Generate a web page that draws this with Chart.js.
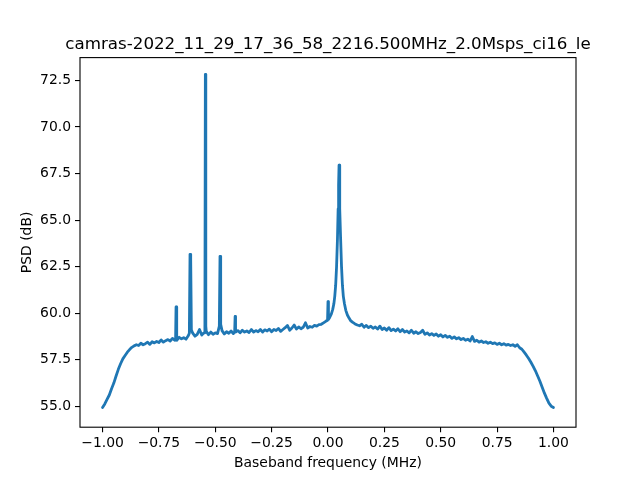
<!DOCTYPE html>
<html>
<head>
<meta charset="utf-8">
<script src="https://cdn.jsdelivr.net/npm/chart.js@4"></script>
<style>
  body { margin: 0; background: #fff; }
  #wrap { width: 640px; height: 480px; }
</style>
</head>
<body>
<div id="wrap"><canvas id="psdChart" width="640" height="480"></canvas></div>
<script>
// PSD trace (MHz, dB)
const freqs = [
  -1.00, -0.99, -0.98, -0.97, -0.96, -0.95, -0.94, -0.93, -0.92, -0.91,
  -0.90, -0.89, -0.88, -0.87, -0.86, -0.85, -0.84, -0.83, -0.82, -0.81,
  -0.80, -0.79, -0.78, -0.77, -0.76, -0.75, -0.74, -0.73, -0.72, -0.71,
  -0.70, -0.69, -0.68, -0.676, -0.674, -0.672, -0.67, -0.66, -0.65, -0.64,
  -0.63, -0.62, -0.615, -0.612, -0.610, -0.608, -0.606, -0.60, -0.59, -0.58,
  -0.57, -0.56, -0.55, -0.546, -0.544, -0.542, -0.54, -0.53, -0.52, -0.51,
  -0.50, -0.49, -0.482, -0.479, -0.476, -0.47, -0.46, -0.45, -0.44, -0.43,
  -0.42, -0.414, -0.412, -0.410, -0.40, -0.39, -0.38, -0.37, -0.36, -0.35,
  -0.34, -0.33, -0.32, -0.31, -0.30, -0.29, -0.28, -0.27, -0.26, -0.25,
  -0.24, -0.23, -0.22, -0.21, -0.20, -0.19, -0.18, -0.17, -0.16, -0.15,
  -0.14, -0.13, -0.12, -0.11, -0.10, -0.09, -0.08, -0.07, -0.06, -0.05,
  -0.04, -0.03, -0.02, -0.01, -0.002, 0.000, 0.002, 0.008, 0.015, 0.021,
  0.026, 0.030, 0.034, 0.038, 0.042, 0.045, 0.047, 0.049, 0.051, 0.053,
  0.056, 0.060, 0.064, 0.068, 0.073, 0.079, 0.086, 0.094, 0.10, 0.11,
  0.12, 0.13, 0.14, 0.15, 0.16, 0.17, 0.18, 0.19, 0.20, 0.21,
  0.22, 0.23, 0.24, 0.25, 0.26, 0.27, 0.28, 0.29, 0.30, 0.31,
  0.32, 0.33, 0.34, 0.35, 0.36, 0.37, 0.38, 0.39, 0.40, 0.41,
  0.42, 0.43, 0.44, 0.45, 0.46, 0.47, 0.48, 0.49, 0.50, 0.51,
  0.52, 0.53, 0.54, 0.55, 0.56, 0.57, 0.58, 0.59, 0.60, 0.61,
  0.62, 0.63, 0.64, 0.65, 0.66, 0.67, 0.68, 0.69, 0.70, 0.71,
  0.72, 0.73, 0.74, 0.75, 0.76, 0.77, 0.78, 0.79, 0.80, 0.81,
  0.82, 0.83, 0.84, 0.85, 0.86, 0.87, 0.88, 0.89, 0.90, 0.91,
  0.92, 0.93, 0.94, 0.95, 0.96, 0.97, 0.98, 0.99, 1.00
];
const psd = [
  54.93, 55.12, 55.36, 55.60, 55.94, 56.24, 56.62, 56.98, 57.28, 57.54,
  57.72, 57.90, 58.04, 58.16, 58.24, 58.30, 58.26, 58.38, 58.30, 58.36,
  58.44, 58.32, 58.46, 58.40, 58.48, 58.42, 58.56, 58.44, 58.52, 58.58,
  58.50, 58.64, 58.54, 58.62, 60.33, 58.60, 58.54, 58.70, 58.62, 58.68,
  58.60, 58.78, 58.92, 63.16, 59.20, 62.90, 59.10, 58.92, 58.76, 58.86,
  59.12, 58.82, 58.94, 59.22, 72.83, 59.30, 59.02, 58.84, 58.98, 58.86,
  58.94, 58.90, 59.30, 63.05, 59.40, 59.06, 58.88, 59.00, 58.92, 59.04,
  58.90, 59.00, 59.82, 58.98, 59.06, 58.94, 59.08, 58.98, 59.04, 58.96,
  59.12, 58.98, 59.06, 59.00, 59.12, 58.98, 59.10, 59.04, 59.14, 59.00,
  59.12, 59.06, 59.18, 59.02, 59.12, 59.22, 59.34, 59.08, 59.20, 59.36,
  59.14, 59.26, 59.16, 59.24, 59.48, 59.20, 59.28, 59.24, 59.34, 59.30,
  59.38, 59.40, 59.48, 59.56, 59.62, 60.62, 59.66, 59.78, 59.96, 60.20,
  60.50, 60.90, 61.50, 62.50, 64.00, 65.60, 66.90, 67.95, 66.90, 65.60,
  64.00, 62.50, 61.50, 60.90, 60.50, 60.15, 59.90, 59.72, 59.60, 59.50,
  59.42, 59.36, 59.32, 59.40, 59.24, 59.34, 59.22, 59.30, 59.18, 59.26,
  59.14, 59.30, 59.12, 59.20, 59.08, 59.22, 59.06, 59.14, 59.04, 59.16,
  59.00, 59.12, 58.98, 59.04, 58.94, 59.08, 58.92, 59.00, 58.90, 58.96,
  59.08, 58.86, 58.94, 58.82, 58.90, 58.80, 58.88, 58.76, 58.84, 58.72,
  58.80, 58.70, 58.76, 58.64, 58.72, 58.62, 58.68, 58.58, 58.64, 58.54,
  58.60, 58.50, 58.74, 58.48, 58.54, 58.44, 58.50, 58.42, 58.46, 58.38,
  58.44, 58.36, 58.40, 58.32, 58.38, 58.30, 58.36, 58.28, 58.32, 58.26,
  58.30, 58.22, 58.30, 58.14, 58.06, 57.90, 57.74, 57.56, 57.36, 57.14,
  56.90, 56.62, 56.34, 56.02, 55.70, 55.42, 55.16, 55.00, 54.93
];
const xTicks = [-1.0, -0.75, -0.5, -0.25, 0.0, 0.25, 0.5, 0.75, 1.0];
const yTicks = [55.0, 57.5, 60.0, 62.5, 65.0, 67.5, 70.0, 72.5];

const titleText = 'camras-2022_11_29_17_36_58_2216.500MHz_2.0Msps_ci16_le';
const font = 'DejaVu Sans';

function minusSign(s) {
    return s.replace('-', '\u2212');
}

// matplotlib style: frame on all four sides, title centred over the axes
const framePlugin = {
    id: 'frame',
    afterDraw(chart) {
        const a = chart.chartArea;
        const ctx = chart.ctx;
        ctx.save();
        ctx.strokeStyle = '#000';
        ctx.lineWidth = 1.1;
        ctx.strokeRect(a.left, a.top, a.right - a.left, a.bottom - a.top);
        ctx.fillStyle = '#000';
        ctx.font = '16.7px "' + font + '"';
        ctx.textAlign = 'center';
        ctx.textBaseline = 'alphabetic';
        ctx.fillText(titleText, (a.left + a.right) / 2, a.top - 8.3);
        ctx.restore();
    }
};

const tickGrid = {
    display: true,
    drawOnChartArea: false,
    drawTicks: true,
    tickLength: 5,
    color: '#000',
    lineWidth: 1.1
};

new Chart(document.getElementById('psdChart'), {
    type: 'line',
    data: {
        datasets: [{
            data: freqs.map((f, i) => ({ x: f, y: psd[i] })),
            borderColor: '#1f77b4',
            borderWidth: 2.8,
            borderJoinStyle: 'round',
            borderCapStyle: 'round',
            pointRadius: 0,
            tension: 0,
            fill: false
        }]
    },
    options: {
        responsive: false,
        animation: false,
        layout: { padding: { left: 0, right: 64, top: 57.6, bottom: 0 } },
        plugins: {
            legend: { display: false },
            tooltip: { enabled: false },
            title: { display: false }
        },
        scales: {
            x: {
                type: 'linear',
                min: -1.1,
                max: 1.1,
                border: { display: false },
                grid: tickGrid,
                afterBuildTicks: s => { s.ticks = xTicks.map(v => ({ value: v })); },
                afterFit: s => { s.height = 52.8; },
                ticks: {
                    color: '#000',
                    padding: 3,
                    maxRotation: 0,
                    font: { family: font, size: 13.9 },
                    callback: v => minusSign(v.toFixed(2))
                },
                title: {
                    display: true,
                    text: 'Baseband frequency (MHz)',
                    color: '#000',
                    font: { family: font, size: 13.9 },
                    padding: { top: 0, bottom: 8 }
                }
            },
            y: {
                min: 53.87,
                max: 73.73,
                border: { display: false },
                grid: tickGrid,
                afterBuildTicks: s => { s.ticks = yTicks.map(v => ({ value: v })); },
                afterFit: s => { s.width = 80; },
                ticks: {
                    color: '#000',
                    padding: 4,
                    font: { family: font, size: 13.9 },
                    callback: v => minusSign(v.toFixed(1))
                },
                title: {
                    display: true,
                    text: 'PSD (dB)',
                    color: '#000',
                    font: { family: font, size: 13.9 },
                    padding: { top: 19.5 }
                }
            }
        }
    },
    plugins: [framePlugin]
});
</script>
</body>
</html>
